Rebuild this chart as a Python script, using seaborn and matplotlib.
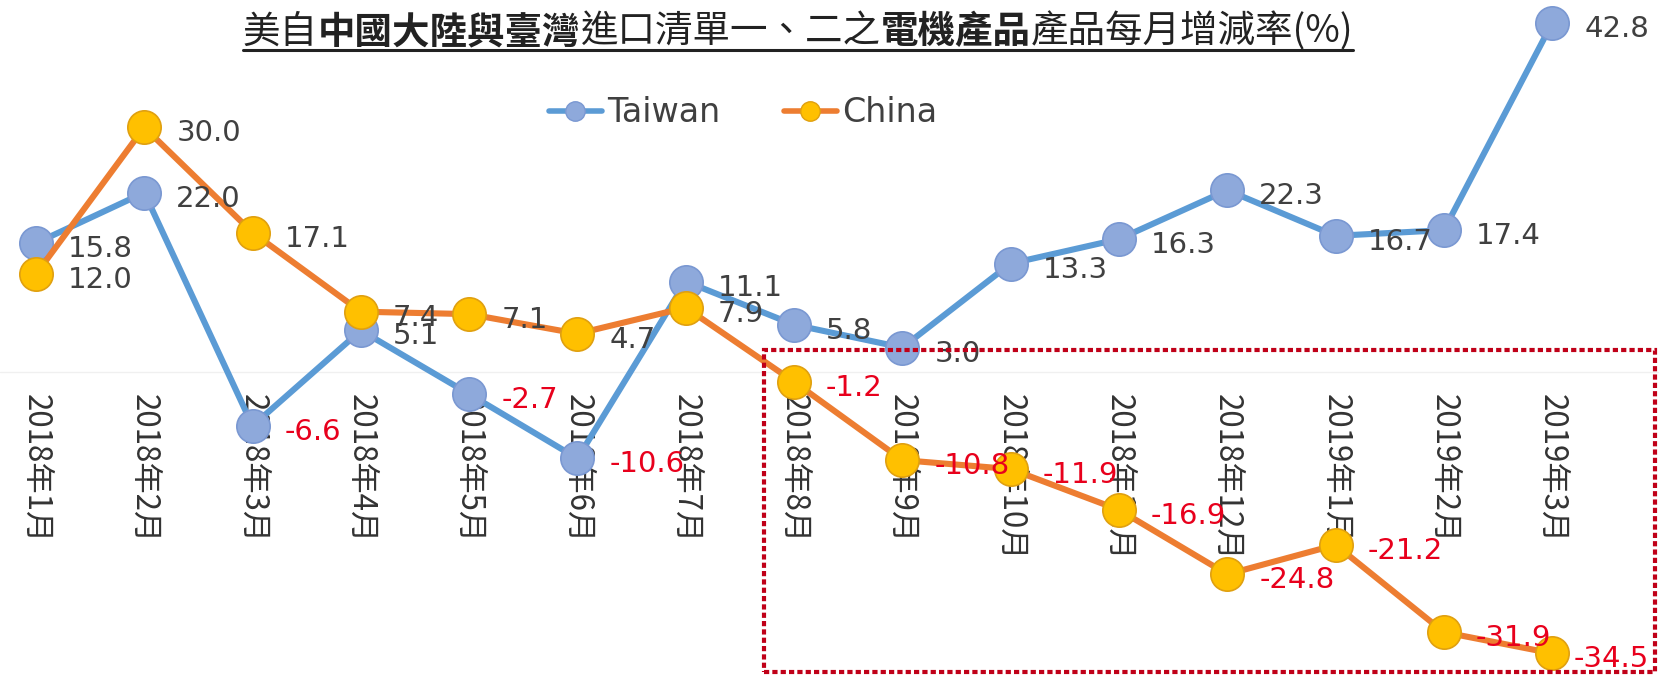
import matplotlib
matplotlib.use("Agg")
import numpy as np
import pandas as pd
import seaborn as sns
import matplotlib.pyplot as plt
from matplotlib.lines import Line2D
from matplotlib.patches import Rectangle

# ---------------- data ----------------
months = ["2018年1月", "2018年2月", "2018年3月", "2018年4月", "2018年5月",
          "2018年6月", "2018年7月", "2018年8月", "2018年9月", "2018年10月",
          "2018年11月", "2018年12月", "2019年1月", "2019年2月", "2019年3月"]
taiwan = [15.8, 22.0, -6.6, 5.1, -2.7, -10.6, 11.1, 5.8, 3.0, 13.3, 16.3, 22.3, 16.7, 17.4, 42.8]
china = [12.0, 30.0, 17.1, 7.4, 7.1, 4.7, 7.9, -1.2, -10.8, -11.9, -16.9, -24.8, -21.2, -31.9, -34.5]
series_names = ["Taiwan", "China"]
title_parts = [("美自", False), ("中國大陸與臺灣", True), ("進口清單一、二之", False),
               ("電機產品", True), ("產品每月增減率(%)", False)]

# ---------------- style ----------------
sns.set_theme(style="white")
plt.rcParams["font.family"] = ["DejaVu Sans"]
CJK = ["Noto Sans CJK TC", "DejaVu Sans"]

W, H = 1659, 678
fig = plt.figure(figsize=(W / 100, H / 100), dpi=100)
fig.patch.set_facecolor("white")
ax = fig.add_axes([0, 0, 1, 1])
ax.set_facecolor("white")

df = pd.DataFrame({"idx": np.arange(len(months)), "month": months,
                   "Taiwan": taiwan, "China": china})

styles = {
    "Taiwan": dict(line="#5B9BD5", face="#8EA9DB", edge="#7A98D2"),
    "China": dict(line="#ED7D31", face="#FFC000", edge="#E0A010"),
}

ax.axhline(0, color="#f0f0f0", lw=1, zorder=0)

for z, name in enumerate(series_names):
    st = styles[name]
    sns.lineplot(data=df, x="idx", y=name, ax=ax, sort=False, color=st["line"],
                 linewidth=4.4, marker="o", markersize=24,
                 markerfacecolor=st["face"], markeredgecolor=st["edge"],
                 markeredgewidth=1.2, zorder=3 + z, legend=False)

ax.set_xlim(-0.332, 14.986)
ax.set_ylim(-37.52, 45.62)
ax.set_axis_off()

# category labels (rotated, under the zero line)
for i, m in enumerate(months):
    ax.annotate(m, (i, 0), xytext=(0, -22), textcoords="offset pixels",
                rotation=-90, ha="center", va="top", fontsize=22.5,
                family=CJK, color="#333333", zorder=1)

# data labels
label_dx = {"Taiwan": [32] * len(months), "China": [32] * (len(months) - 1) + [21]}
for name in series_names:
    for i, v in enumerate(df[name]):
        ax.annotate(f"{v:.1f}", (i, v), xytext=(label_dx[name][i], -6),
                    textcoords="offset pixels", ha="left", va="center",
                    fontsize=21, color="#E8001C" if v < 0 else "#404040",
                    zorder=6)

# dotted highlight box
fig.add_artist(Rectangle((764 / W, 1 - 672 / H), (1655 - 764) / W, (672 - 350) / H,
                         transform=fig.transFigure, fill=False, edgecolor="#C00018",
                         linewidth=3.0, linestyle=(0, (1.25, 0.75)), zorder=2))

# legend
handles = [Line2D([], [], color=styles[n]["line"], lw=4, marker="o", markersize=14,
                  markerfacecolor=styles[n]["face"], markeredgecolor=styles[n]["edge"])
           for n in series_names]
leg = ax.legend(handles, series_names, loc="center", ncol=2, frameon=False,
                fontsize=24, handlelength=1.6, handletextpad=0.15,
                columnspacing=1.9, bbox_to_anchor=(743 / W, 1 - 113 / H),
                bbox_transform=fig.transFigure)
for t in leg.get_texts():
    t.set_color("#404040")

# title with bold segments and underline
fig.canvas.draw()
r = fig.canvas.get_renderer()
texts = []
for s, bold in title_parts:
    t = fig.text(0, 1 - 32 / H, s, fontsize=27, family=CJK,
                 fontweight="bold" if bold else "normal", va="center", ha="left",
                 color="#222222")
    texts.append(t)
widths = [t.get_window_extent(r).width for t in texts]
total = sum(widths)
cx = 798
x = cx - total / 2
for t, w in zip(texts, widths):
    t.set_x(x / W)
    x += w
fig.add_artist(Line2D([(cx - total / 2) / W, (cx + total / 2) / W], [1 - 50 / H] * 2,
                      transform=fig.transFigure, color="#222222", lw=2.2))

fig.savefig("out.png", dpi=100, facecolor="white")
